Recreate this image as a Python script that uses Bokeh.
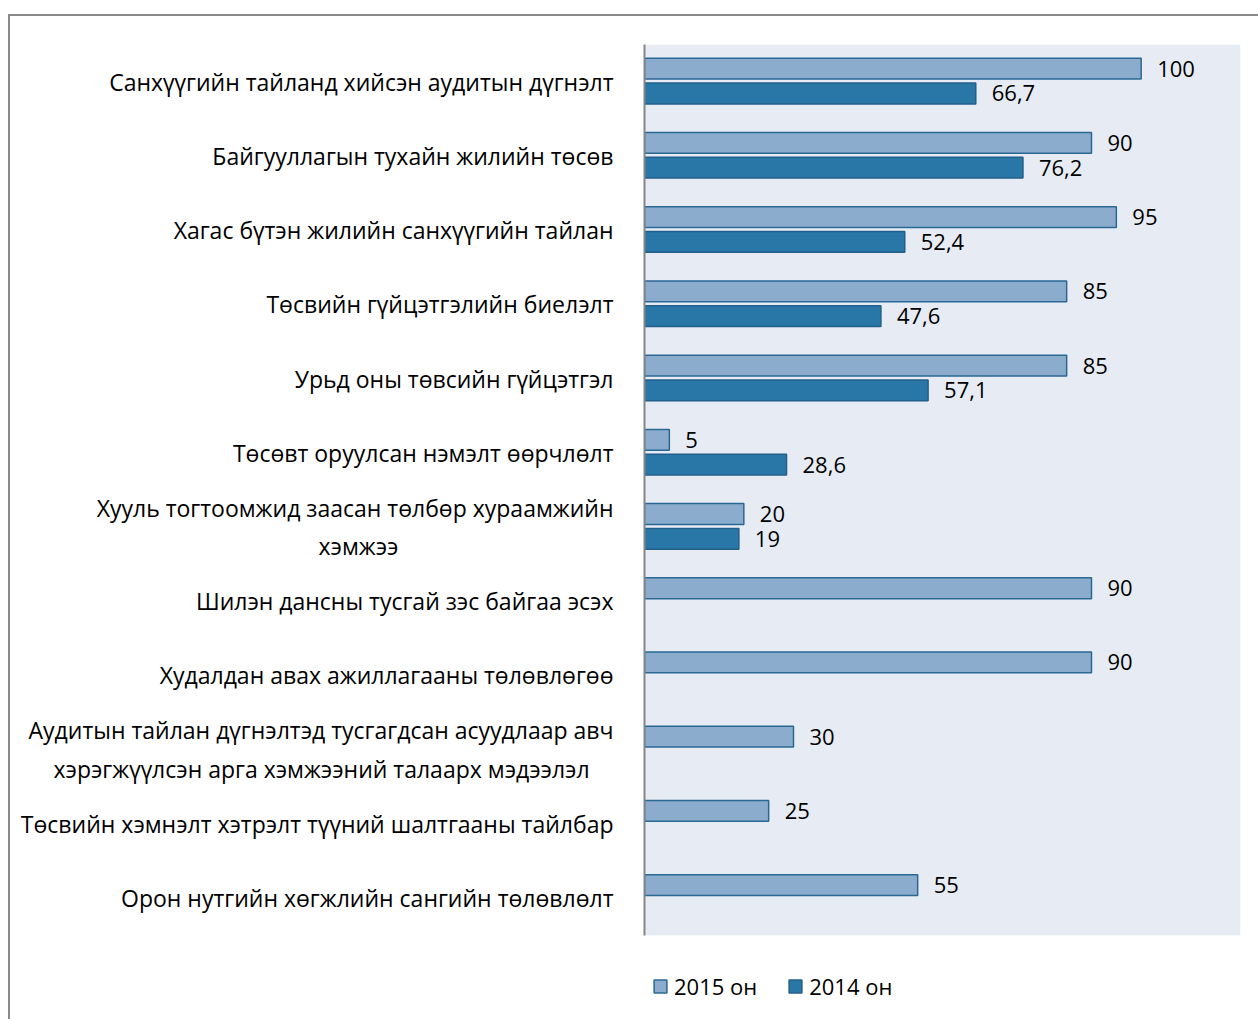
from bokeh.plotting import figure
from bokeh.models import (ColumnDataSource, FactorRange, LabelSet, Legend, LegendItem,
                          Range1d, InlineStyleSheet, BoxAnnotation)
from bokeh.core.properties import value
from bokeh.transform import dodge
from bokeh.embed import file_html
from bokeh.resources import INLINE

NB = "\u00a0"
categories = [
    "Санхүүгийн тайланд хийсэн аудитын дүгнэлт",
    "Байгууллагын тухайн жилийн төсөв",
    "Хагас бүтэн жилийн санхүүгийн тайлан",
    "Төсвийн гүйцэтгэлийн биелэлт",
    "Урьд оны төвсийн гүйцэтгэл",
    "Төсөвт оруулсан нэмэлт өөрчлөлт",
    "Хууль тогтоомжид заасан төлбөр хураамжийн\nхэмжээ" + NB * 36,
    "Шилэн дансны тусгай зэс байгаа эсэх",
    "Худалдан авах ажиллагааны төлөвлөгөө",
    "Аудитын тайлан дүгнэлтэд тусгагдсан асуудлаар авч\nхэрэгжүүлсэн арга хэмжээний талаарх мэдээлэл" + NB * 4,
    "Төсвийн хэмнэлт хэтрэлт түүний шалтгааны тайлбар",
    "Орон нутгийн хөгжлийн сангийн төлөвлөлт",
]
values_2015 = [100, 90, 95, 85, 85, 5, 20, 90, 90, 30, 25, 55]
values_2014 = [66.7, 76.2, 52.4, 47.6, 57.1, 28.6, 19, None, None, None, None, None]
series_names = ["2015 он", "2014 он"]
SPACER = " "  # empty row at the bottom of the frame that holds the legend

def fmt(v):
    return f"{v:g}".replace(".", ",")

src15 = ColumnDataSource(dict(cat=categories, val=values_2015,
                              lbl=[fmt(v) for v in values_2015]))
c14 = [c for c, v in zip(categories, values_2014) if v is not None]
v14 = [v for v in values_2014 if v is not None]
src14 = ColumnDataSource(dict(cat=c14, val=v14, lbl=[fmt(v) for v in v14]))

FONT = "Open Sans"
n = len(categories)

p = figure(frame_width=596, frame_height=965,
           output_backend="svg", toolbar_location=None,
           y_range=FactorRange(*([SPACER] + list(reversed(categories)))),
           x_range=Range1d(0, 120), x_axis_location=None,
           min_border_left=644, min_border_right=18, min_border_top=44,
           min_border_bottom=10, background_fill_color="white",
           border_fill_color="white", outline_line_color=None)

# light plot-area background over the category rows only
p.add_layout(BoxAnnotation(bottom=1, fill_color="#E7ECF4", fill_alpha=1,
                           line_color=None, level="underlay"))

r15 = p.hbar(y=dodge("cat", 0.175, range=p.y_range), right="val", left=0, height=0.28,
             source=src15, fill_color="#8BACCD", line_color="#2A6894", line_width=1.5)
r14 = p.hbar(y=dodge("cat", -0.16, range=p.y_range), right="val", left=0, height=0.28,
             source=src14, fill_color="#2977A7", line_color="#225F8A", line_width=1.5)

p.add_layout(LabelSet(x="val", y=dodge("cat", 0.175, range=p.y_range), text="lbl",
                      source=src15, x_offset=16, text_baseline="middle",
                      text_font=value(FONT), text_font_size="22px", text_color="black"))
p.add_layout(LabelSet(x="val", y=dodge("cat", -0.16, range=p.y_range), text="lbl",
                      source=src14, x_offset=16, text_baseline="middle",
                      text_font=value(FONT), text_font_size="22px", text_color="black"))

p.xgrid.grid_line_color = None
p.ygrid.grid_line_color = None
yax = p.yaxis[0]
yax.bounds = (1, n + 1)
yax.axis_line_color = "#858585"
yax.axis_line_width = 2
yax.major_tick_line_color = None
yax.minor_tick_line_color = None
yax.major_label_standoff = 25
yax.major_label_text_font = FONT
yax.major_label_text_font_size = "23px"
yax.major_label_text_color = "black"

legend = Legend(items=[LegendItem(label=series_names[0], renderers=[r15]),
                       LegendItem(label=series_names[1], renderers=[r14])],
                location=(8, 8), orientation="horizontal", padding=0, margin=0,
                spacing=30, label_standoff=6, glyph_width=16, glyph_height=16,
                label_text_font=FONT, label_text_font_size="22px",
                label_text_color="black", border_line_color=None,
                background_fill_alpha=0)
p.add_layout(legend)

p.stylesheets = [InlineStyleSheet(css=""":host { position: relative; }
:host::after { content: ""; position: absolute; left: 8px; top: 14px; right: 0px; bottom: -10px;
  border-top: 2px solid #8A8A8A; border-left: 2px solid #8A8A8A; pointer-events: none; }""")]

open("out.html", "w").write(file_html(p, INLINE))
